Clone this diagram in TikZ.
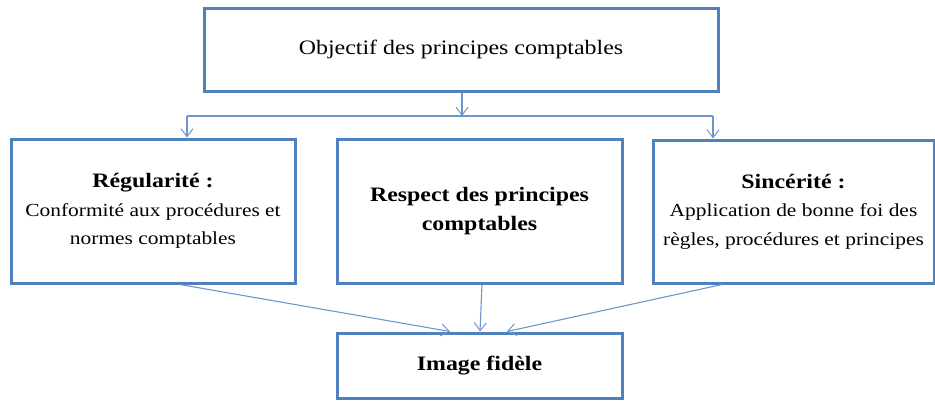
\documentclass[tikz,border=0pt]{standalone}
\usepackage{fontspec}
\setmainfont{Liberation Serif}[FakeStretch=1.165]
\usetikzlibrary{arrows.meta,calc}

\definecolor{boxblue}{RGB}{79,129,189}
\definecolor{linkblue}{RGB}{110,150,205}

% body text of the three middle boxes is set a little smaller
\newcommand{\bodytxt}[1]{{\fontsize{18.4}{28.5}\selectfont #1}}

\tikzset{
  frame/.style={draw=boxblue, line width=3pt, rectangle, align=center,
    inner sep=0pt, font=\fontsize{20.5}{28.5}\selectfont, text=black},
  link/.style={draw=linkblue, line width=1.1pt,
    -{Straight Barb[length=8pt,width=12pt,line width=1pt]}},
  bus/.style={draw=linkblue, line width=1.1pt}
}

\begin{document}
\begin{tikzpicture}[x=1pt,y=-1pt]
  \useasboundingbox (0,0) rectangle (935,400);

  % boxes
  \node[frame, minimum width=514pt, minimum height=83pt] (top) at (461,49.5)
    {Objectif des principes comptables};
  \node[frame, minimum width=284pt, minimum height=144pt] (left) at (153,211)
    {\textbf{Régularité :}\\\bodytxt{Conformité aux procédures et}\\\bodytxt{normes comptables}};
  \node[frame, minimum width=285pt, minimum height=144pt] (mid) at (479.5,211)
    {\textbf{Respect des principes}\\\textbf{comptables}};
  \node[frame, minimum width=281pt, minimum height=143pt] (right) at (793.5,211.5)
    {\textbf{Sincérité :}\\\bodytxt{Application de bonne foi des}\\\bodytxt{règles, procédures et principes}};
  \node[frame, minimum width=285pt, minimum height=65pt] (img) at (479.5,365.5)
    {\textbf{Image fidèle}};

  % distribution bus under the top box
  \coordinate (busM) at (462,116);
  \coordinate (busL) at (187,116);
  \coordinate (busR) at (713,116);
  \draw[link] (top.south -| busM) -- (busM);
  \draw[bus] (busL) -- (busR);
  \draw[link] (busL) -- (busL |- left.north);
  \draw[link] (busR) -- (busR |- right.north);

  % converging links to the result box
  \draw[link] ($(left.south)+(27,0)$) -- ($(img.north)+(-29.5,0)$);
  \draw[link] ($(mid.south)+(2.5,0)$) -- ($(img.north)+(0.5,0)$);
  \draw[link] ($(right.south)+(-71.5,0)$) -- ($(img.north)+(27.5,0)$);
\end{tikzpicture}
\end{document}
